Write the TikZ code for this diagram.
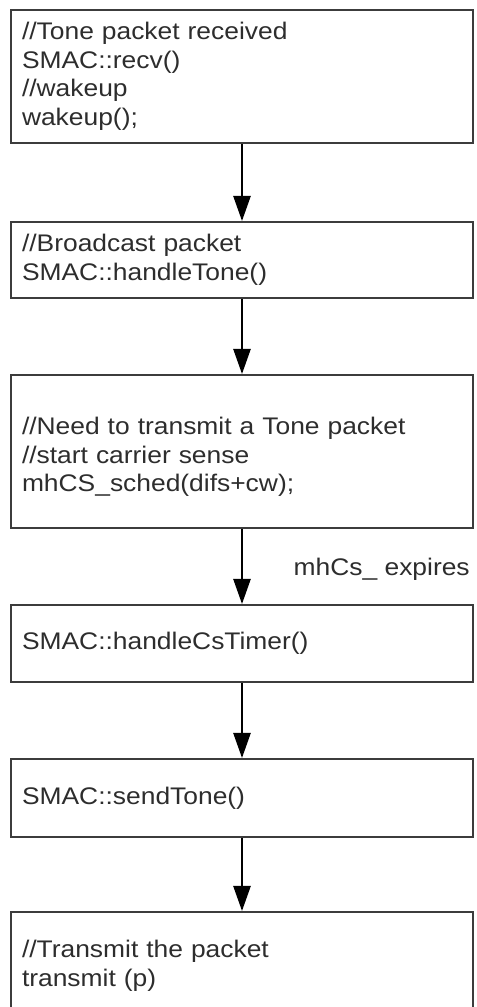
\documentclass[tikz,border=0pt]{standalone}
\usepackage{fontspec}
\setmainfont{Liberation Sans}[FakeStretch=1.1]
\usetikzlibrary{arrows.meta}
\definecolor{ink}{RGB}{45,45,45}
\definecolor{frame}{RGB}{60,60,60}
\begin{document}
\begin{tikzpicture}[x=0.75pt,y=-0.75pt,
  txt/.style={font=\fontsize{18}{21.4}\selectfont, text=ink},
  box/.style={txt, draw=frame, line width=1.6pt, rectangle,
    minimum width=346.5pt, text width=330pt, inner xsep=8.25pt,
    inner ysep=0pt, align=left},
  flow/.style={draw=black, line width=1.1pt,
    -{Triangle[width=13pt,length=18.75pt]}}]
\useasboundingbox (0,0) rectangle (476,1007);

% call-chain boxes
\node[box, minimum height=99.75pt] (recv) at (242,76.5)
  {//Tone packet received\\SMAC::recv()\\//wakeup\\wakeup();};
\node[box, minimum height=57pt] (handle) at (242,260)
  {//Broadcast packet\\SMAC::handleTone()};
\node[box, minimum height=114.75pt] (sched) at (242,451.5)
  {\mbox{}\\//Need to transmit a Tone packet\\//start carrier sense\\mhCS\_sched(difs+cw);};
\node[box, minimum height=57.75pt] (cstimer) at (242,643.5)
  {SMAC::handleCsTimer()};
\node[box, minimum height=58.5pt] (send) at (242,798)
  {SMAC::sendTone()};
\node[box, minimum height=81pt] (tx) at (242,966)
  {//Transmit the packet\\transmit (p)};

% timer label
\node[txt, anchor=base east, inner sep=0pt] (expire) at (470,575) {mhCs\_ expires};

% flow arrows
\draw[flow] (recv) -- (handle);
\draw[flow] (handle) -- (sched);
\draw[flow] (sched) -- (cstimer);
\draw[flow] (cstimer) -- (send);
\draw[flow] (send) -- (tx);
\end{tikzpicture}
\end{document}
